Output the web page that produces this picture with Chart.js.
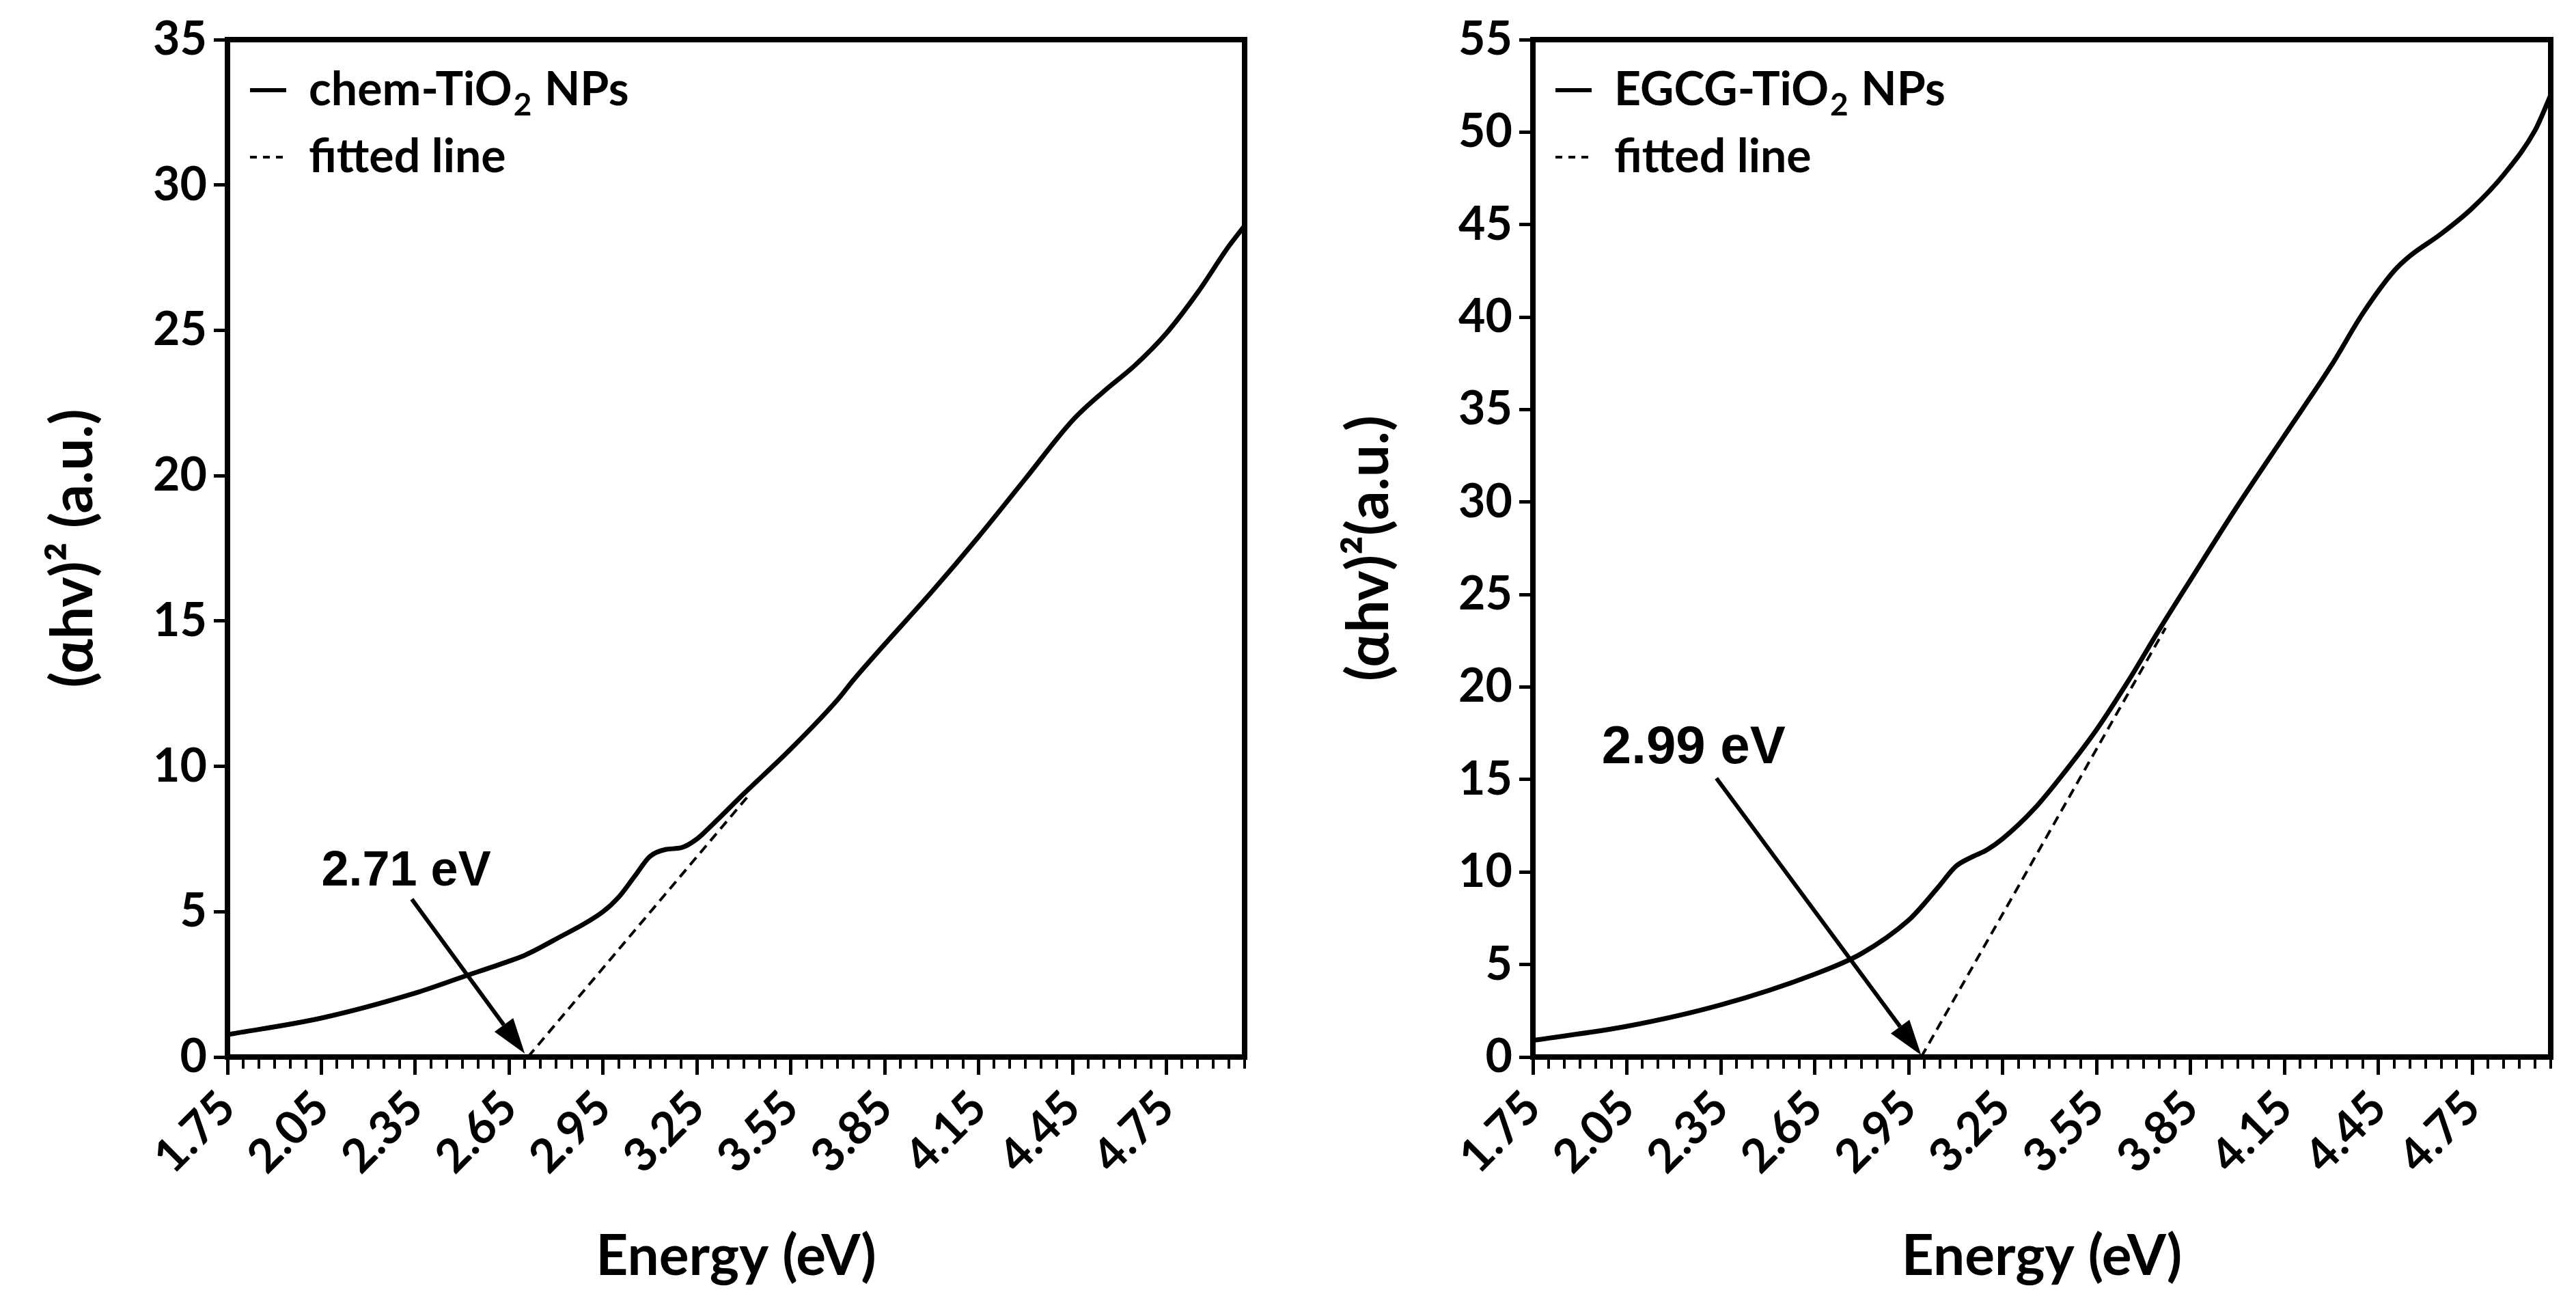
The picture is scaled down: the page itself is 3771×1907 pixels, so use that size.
<!DOCTYPE html>
<html>
<head>
<meta charset="utf-8">
<script src="https://cdn.jsdelivr.net/npm/chart.js@4.4.1/dist/chart.umd.min.js"></script>
<style>
  html, body { margin: 0; padding: 0; background: #fff; }
  #wrap { width: 3771px; height: 1907px; position: relative; }
  .panel { position: absolute; top: 0; height: 1907px; }
  #left { left: 0; width: 1885px; }
  #right { left: 1885px; width: 1886px; }
</style>
</head>
<body>
<div id="wrap">
  <div class="panel" id="left"><canvas id="chemChart"></canvas></div>
  <div class="panel" id="right"><canvas id="egcgChart"></canvas></div>
</div>
<script>
// x tick labels (eV) shared by both panels
const xMajorTicks = [1.75, 2.05, 2.35, 2.65, 2.95, 3.25, 3.55, 3.85, 4.15, 4.45, 4.75];
const xMinorStep = 0.05;
const yTicksChem = [0, 5, 10, 15, 20, 25, 30, 35];
const yTicksEgcg = [0, 5, 10, 15, 20, 25, 30, 35, 40, 45, 50, 55];

// chem-TiO2 NPs, (ahv)^2
const energyChem = [1.75, 2.05, 2.35, 2.5, 2.65, 2.7, 2.8, 2.95, 3.0, 3.05, 3.1, 3.15, 3.2, 3.25, 3.3, 3.4,
  3.55, 3.7, 3.75, 3.85, 4.0, 4.15, 4.3, 4.45, 4.55, 4.65, 4.75, 4.85, 4.95, 5.0];
const chemValues = [0.77, 1.34, 2.2, 2.75, 3.3, 3.5, 4.06, 5.0, 5.5, 6.2, 6.9, 7.14, 7.2, 7.5, 8.0, 9.06,
  10.6, 12.3, 12.97, 14.2, 16.0, 17.9, 19.9, 21.9, 22.9, 23.8, 24.9, 26.3, 27.9, 28.6];
const chemFitX = [2.71, 3.42];
const chemFitY = [0, 9.06];

// EGCG-TiO2 NPs, right panel
const energyEgcg = [1.75, 2.05, 2.35, 2.65, 2.8, 2.95, 3.0, 3.05, 3.1, 3.15, 3.2, 3.25, 3.35, 3.45, 3.55,
  3.65, 3.75, 3.85, 4.0, 4.15, 4.3, 4.4, 4.5, 4.55, 4.65, 4.75, 4.85, 4.95, 5.0];
const egcgValues = [0.9, 1.66, 2.82, 4.48, 5.6, 7.4, 8.3, 9.3, 10.3, 10.8, 11.2, 11.8, 13.4, 15.45, 17.7,
  20.3, 23.1, 25.8, 29.8, 33.6, 37.4, 40.2, 42.5, 43.3, 44.5, 45.9, 47.7, 50.1, 52.0];
const egcgFitX = [2.99, 3.77];
const egcgFitY = [0, 23.2];

const FONT = 'Lato, "Open Sans", sans-serif';

function pts(xs, ys) {
  return xs.map((x, i) => ({ x: x, y: ys[i] }));
}

// box frame, minor x ticks, inline legend, band-gap arrow
const extras = {
  id: 'extras',
  afterDraw(chart, args, opts) {
    const ctx = chart.ctx;
    const a = chart.chartArea;
    const x = chart.scales.x, y = chart.scales.y;
    ctx.save();
    ctx.strokeStyle = '#000';
    ctx.fillStyle = '#000';
    ctx.lineWidth = 8;
    ctx.lineCap = 'square';
    ctx.beginPath();
    ctx.moveTo(a.left, a.top);
    ctx.lineTo(a.right, a.top);
    ctx.lineTo(a.right, a.bottom);
    ctx.stroke();

    // minor ticks along the energy axis
    ctx.lineCap = 'butt';
    ctx.lineWidth = 4;
    ctx.beginPath();
    for (let v = x.min; v <= x.max + 1e-6; v += xMinorStep) {
      const px = Math.round(x.getPixelForValue(v));
      ctx.moveTo(px, a.bottom);
      ctx.lineTo(px, a.bottom + 17);
    }
    ctx.stroke();

    // legend
    ctx.textBaseline = 'alphabetic';
    opts.legend.forEach((item, i) => {
      const yb = a.top + 96 + i * 98;
      ctx.setLineDash(item.dash);
      ctx.lineWidth = item.dash.length ? 4 : 6;
      ctx.beginPath();
      ctx.moveTo(a.left + 33, yb - 22);
      ctx.lineTo(a.left + 86, yb - 22);
      ctx.stroke();
      ctx.setLineDash([]);
      let tx = a.left + 119;
      ctx.font = 'bold 68px ' + FONT;
      ctx.fillText(item.text, tx, yb);
      if (item.sub) {
        tx += ctx.measureText(item.text).width + 2;
        ctx.font = 'bold 46px ' + FONT;
        ctx.fillText(item.sub, tx, yb + 15);
        tx += ctx.measureText(item.sub).width + 2;
        ctx.font = 'bold 68px ' + FONT;
        ctx.fillText(item.rest, tx, yb);
      }
    });

    // arrow to the intercept
    const b = opts.bandgap;
    const x0 = x.getPixelForValue(b.from[0]), y0 = y.getPixelForValue(b.from[1]);
    const x1 = x.getPixelForValue(b.to[0]), y1 = y.getPixelForValue(b.to[1]);
    const ang = Math.atan2(y1 - y0, x1 - x0);
    const head = 52, hw = 17;
    const c = Math.cos(ang), s = Math.sin(ang);
    ctx.lineWidth = 6;
    ctx.beginPath();
    ctx.moveTo(x0, y0);
    ctx.lineTo(x1 - head * c, y1 - head * s);
    ctx.stroke();
    ctx.beginPath();
    ctx.moveTo(x1, y1);
    ctx.lineTo(x1 - head * c + hw * s, y1 - head * s - hw * c);
    ctx.lineTo(x1 - head * c - hw * s, y1 - head * s + hw * c);
    ctx.closePath();
    ctx.fill();

    ctx.font = 'bold ' + b.size + 'px "Liberation Sans", Arial, sans-serif';
    ctx.fillText(b.text, x.getPixelForValue(b.at[0]), y.getPixelForValue(b.at[1]));
    ctx.restore();
  }
};

function makeChart(id, cfg) {
  const tickFont = { family: FONT, size: 68, weight: 'bold' };
  return new Chart(document.getElementById(id), {
    type: 'line',
    data: {
      datasets: [{
        label: cfg.name,
        data: pts(cfg.ex, cfg.ey),
        borderColor: '#000',
        borderWidth: 7,
        pointRadius: 0,
        cubicInterpolationMode: 'monotone',
        xAxisID: 'x', yAxisID: 'y'
      }, {
        label: 'fitted line',
        data: pts(cfg.fx, cfg.fy),
        borderColor: '#000',
        borderWidth: 4,
        borderDash: [14, 9],
        pointRadius: 0,
        xAxisID: 'x', yAxisID: 'y'
      }]
    },
    options: {
      responsive: true,
      maintainAspectRatio: false,
      devicePixelRatio: 1,
      animation: false,
      layout: { padding: { top: 58, right: cfg.padRight, left: 0, bottom: 0 } },
      plugins: {
        legend: { display: false },
        tooltip: { enabled: false },
        extras: {
          legend: [
            { text: cfg.legText, sub: '2', rest: ' NPs', dash: [] },
            { text: 'fitted line', dash: [10, 9] }
          ],
          bandgap: cfg.bandgap
        }
      },
      scales: {
        x: {
          type: 'linear',
          position: 'bottom',
          min: 1.75,
          max: 5.0,
          afterBuildTicks: (s) => { s.ticks = xMajorTicks.map(v => ({ value: v })); },
          afterFit: (s) => { s.height = 360; },
          ticks: {
            autoSkip: false,
            minRotation: 45,
            maxRotation: 45,
            padding: 8,
            color: '#000',
            font: tickFont,
            callback: (v) => Number(v).toFixed(2)
          },
          grid: { drawOnChartArea: false, drawTicks: true, tickLength: 26, tickWidth: 5, tickColor: '#000' },
          border: { display: true, width: 8, color: '#000' },
          title: {
            display: true,
            text: 'Energy (eV)',
            color: '#000',
            font: { family: FONT, size: 82, weight: 'bold' },
            padding: { top: 0, bottom: 18 }
          }
        },
        y: {
          type: 'linear',
          position: 'left',
          min: 0,
          max: cfg.ymax,
          afterBuildTicks: (s) => { s.ticks = cfg.yticks.map(v => ({ value: v })); },
          afterFit: (s) => { s.width = cfg.yWidth; },
          ticks: { padding: 10, color: '#000', font: tickFont },
          grid: { drawOnChartArea: false, drawTicks: true, tickLength: 20, tickWidth: 5, tickColor: '#000' },
          border: { display: true, width: 8, color: '#000' },
          title: {
            display: true,
            text: cfg.yTitle,
            color: '#000',
            font: { family: FONT, size: 84, weight: 'bold' },
            padding: { top: cfg.yTitlePad, bottom: 0 }
          }
        }
      }
    },
    plugins: [extras]
  });
}

makeChart('chemChart', {
  name: 'chem-TiO2 NPs',
  legText: 'chem-TiO',
  ex: energyChem, ey: chemValues,
  fx: chemFitX, fy: chemFitY,
  ymax: 35, yticks: yTicksChem,
  yWidth: 333, padRight: 63,
  yTitle: '(\u03b1hv)\u00b2 (a.u.)', yTitlePad: 58,
  bandgap: { text: '2.71 eV', size: 72, at: [2.05, 5.89], from: [2.339, 5.43], to: [2.70, 0.12] }
});

makeChart('egcgChart', {
  name: 'EGCG-TiO2 NPs',
  legText: 'EGCG-TiO',
  ex: energyEgcg, ey: egcgValues,
  fx: egcgFitX, fy: egcgFitY,
  ymax: 55, yticks: yTicksEgcg,
  yWidth: 359, padRight: 37,
  yTitle: '(\u03b1hv)\u00b2(a.u.)', yTitlePad: 70,
  bandgap: { text: '2.99 eV', size: 78, at: [1.97, 15.9], from: [2.336, 15.07], to: [2.99, 0.1] }
});
</script>
</body>
</html>
